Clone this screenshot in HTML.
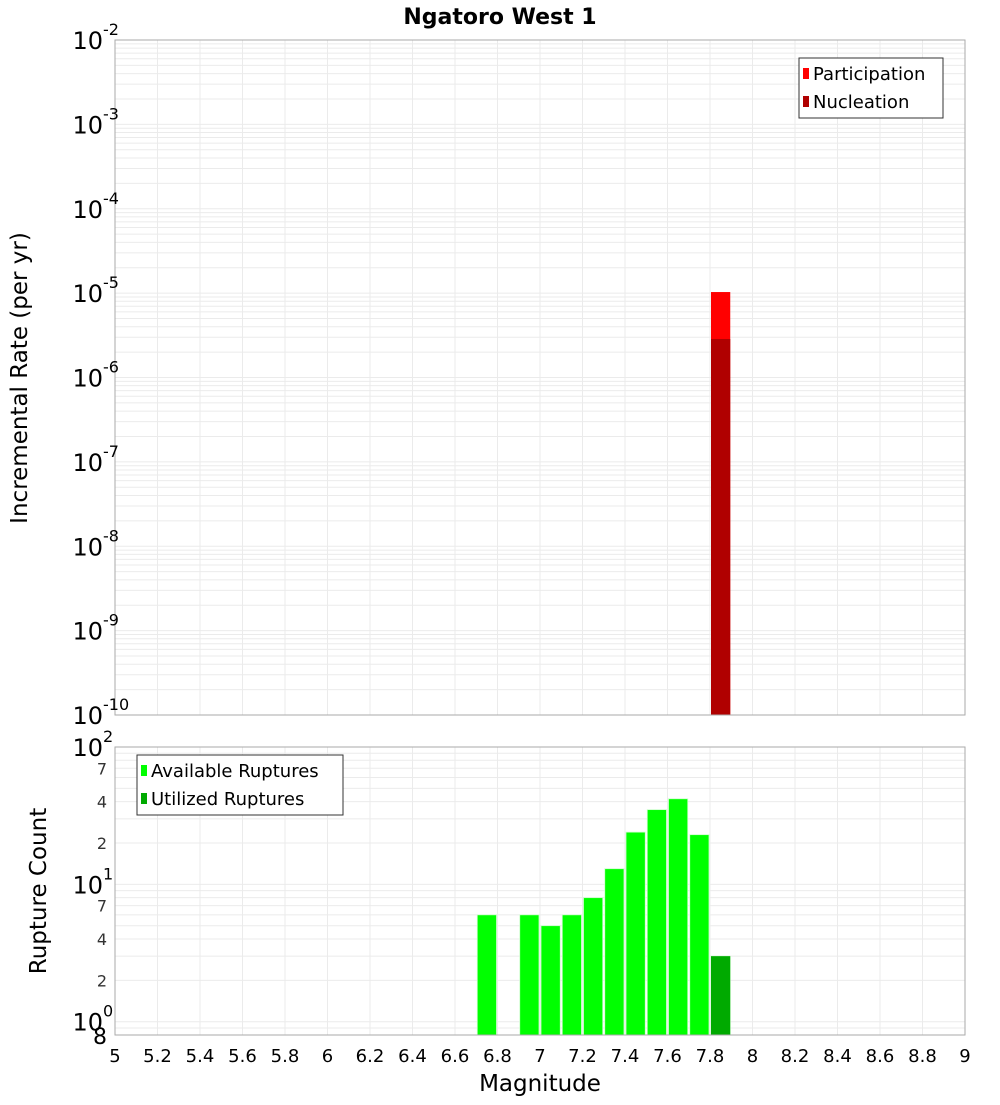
<!DOCTYPE html>
<html><head><meta charset="utf-8"><style>
body{margin:0;background:#fff;}
svg text{font-family:"DejaVu Sans","Liberation Sans",sans-serif;}
</style></head><body>
<svg id="c" width="1000" height="1100" xmlns="http://www.w3.org/2000/svg">
<text x="500" y="24" text-anchor="middle" font-size="22" font-weight="bold">Ngatoro West 1</text>
<text transform="translate(27,378) rotate(-90)" text-anchor="middle" font-size="23">Incremental Rate (per yr)</text>
<text transform="translate(46,891) rotate(-90)" text-anchor="middle" font-size="23">Rupture Count</text>
<text x="540" y="1091" text-anchor="middle" font-size="23">Magnitude</text>
<g id="top"></g><g id="bot"></g>
</svg>
<script>
const mags=[6.75,6.95,7.05,7.15,7.25,7.35,7.45,7.55,7.65,7.75,7.85];
const available=[6,6,5,6,8,13,24,35,42,23,3];
const utilMags=[7.85];
const utilized=[3];
const partMags=[7.85];
const participation=[1.03e-5];
const nucleation=[2.86e-6];
const xTicks=[5,5.2,5.4,5.6,5.8,6,6.2,6.4,6.6,6.8,7,7.2,7.4,7.6,7.8,8,8.2,8.4,8.6,8.8,9];
const topExps=[-2,-3,-4,-5,-6,-7,-8,-9,-10];
const botMinorLabels=[2,4,7];

const NS="http://www.w3.org/2000/svg";
const L=115,R=965;
const x=m=>L+(m-5)/4*(R-L);
const T0=40,T1=715, yT=v=>T0+(-2-Math.log10(v))/8*(T1-T0);
const B0=747,B1=1035, yB=v=>B0+(2-Math.log10(v))/Math.log10(100/0.8)*(B1-B0);
function mk(p,tag,a,txt){const e=document.createElementNS(NS,tag);for(const k in a)e.setAttribute(k,a[k]);if(txt!==undefined)e.textContent=txt;p.appendChild(e);return e;}
const gTop=document.getElementById('top'),gBot=document.getElementById('bot');

function frame(g,y0,y1,lo,hi,yf,minV){
  mk(g,'rect',{x:L,y:y0,width:R-L,height:y1-y0,fill:'#fff'});
  for(let d=lo;d<hi;d++)for(let k=1;k<10;k++){const v=k*Math.pow(10,d);if(v<minV)continue;const yy=yf(v);if(yy<y0-0.1||yy>y1+0.1)continue;
    const ln=mk(g,'line',{x1:L,x2:R,y1:yy,y2:yy,stroke:'#ebebeb','stroke-width':1});
    
    }
  xTicks.forEach(t=>{const ln=mk(g,'line',{x1:x(t),x2:x(t),y1:y0,y2:y1,stroke:'#ebebeb','stroke-width':1});
    
    });
}
frame(gTop,T0,T1,-10,-2,yT,0);
frame(gBot,B0,B1,-1,2,yB,0.8);

partMags.forEach((m,i)=>{
  const r=mk(gTop,'rect',{x:x(m-0.05)+1,y:yT(participation[i]),width:x(m+0.05)-x(m-0.05)-2,height:T1-yT(participation[i]),fill:'#ff0000'});
  
  
  const n=mk(gTop,'rect',{x:x(m-0.05)+1,y:yT(nucleation[i]),width:x(m+0.05)-x(m-0.05)-2,height:T1-yT(nucleation[i]),fill:'#b00000'});
  
  
});
mags.forEach((m,i)=>{
  const r=mk(gBot,'rect',{x:x(m-0.05)+1,y:yB(available[i]),width:x(m+0.05)-x(m-0.05)-2,height:B1-yB(available[i]),fill:'#00ff00',stroke:'#ccffcc','stroke-width':0.8});
  
  
});
utilMags.forEach((m,i)=>{
  const r=mk(gBot,'rect',{x:x(m-0.05)+1,y:yB(utilized[i]),width:x(m+0.05)-x(m-0.05)-2,height:B1-yB(utilized[i]),fill:'#00aa00'});
  
  
});
[[gTop,T0,T1],[gBot,B0,B1]].forEach(([g,a,b])=>{const f=mk(g,'rect',{x:L,y:a,width:R-L,height:b-a,fill:'none',stroke:'#aaaaaa','stroke-width':1});
  
  });

topExps.forEach(e=>{const yy=yT(Math.pow(10,e));
  const t=mk(gTop,'text',{x:103,y:yy+9,'text-anchor':'end','font-size':24},'10');
  
  
  const s=mk(gTop,'text',{x:103,y:yy-5,'font-size':16},String(e));
  
  });
[[2,B0],[1,yB(10)],[0,yB(1)]].forEach(([e,yy])=>{
  const t=mk(gBot,'text',{x:103,y:yy+9,'text-anchor':'end','font-size':24},'10');
  
  
  const s=mk(gBot,'text',{x:103,y:yy-5,'font-size':16},String(e));
  
  });
[1,10].forEach(d=>botMinorLabels.forEach(k=>{const t=mk(gBot,'text',{x:107,y:yB(k*d)+6,'text-anchor':'end','font-size':16,fill:'#333'},String(k));
  
  }));
{const t=mk(gBot,'text',{x:107,y:B1+9,'text-anchor':'end','font-size':22},'8');
 
 }
xTicks.forEach(t=>{const e=mk(gBot,'text',{x:x(t),y:1062,'text-anchor':'middle','font-size':18},String(t));
  
  });

function legend(g,x0,y0,w,items,nm){
  const b=mk(g,'rect',{x:x0,y:y0,width:w,height:items.length*28+4,fill:'#fff',stroke:'#333','stroke-width':1});
  
  
  items.forEach(([lab,col],i)=>{
    const s=mk(g,'rect',{x:x0+4,y:y0+10+i*28,width:6,height:11,fill:col});
    
    
    const t=mk(g,'text',{x:x0+14,y:y0+22+i*28,'font-size':18},lab);
    
    });
}
legend(gTop,799,58,144,[['Participation','#ff0000'],['Nucleation','#b00000']],'top-legend');
legend(gBot,137,755,206,[['Available Ruptures','#00ff00'],['Utilized Ruptures','#00aa00']],'bottom-legend');
</script>
</body></html>
